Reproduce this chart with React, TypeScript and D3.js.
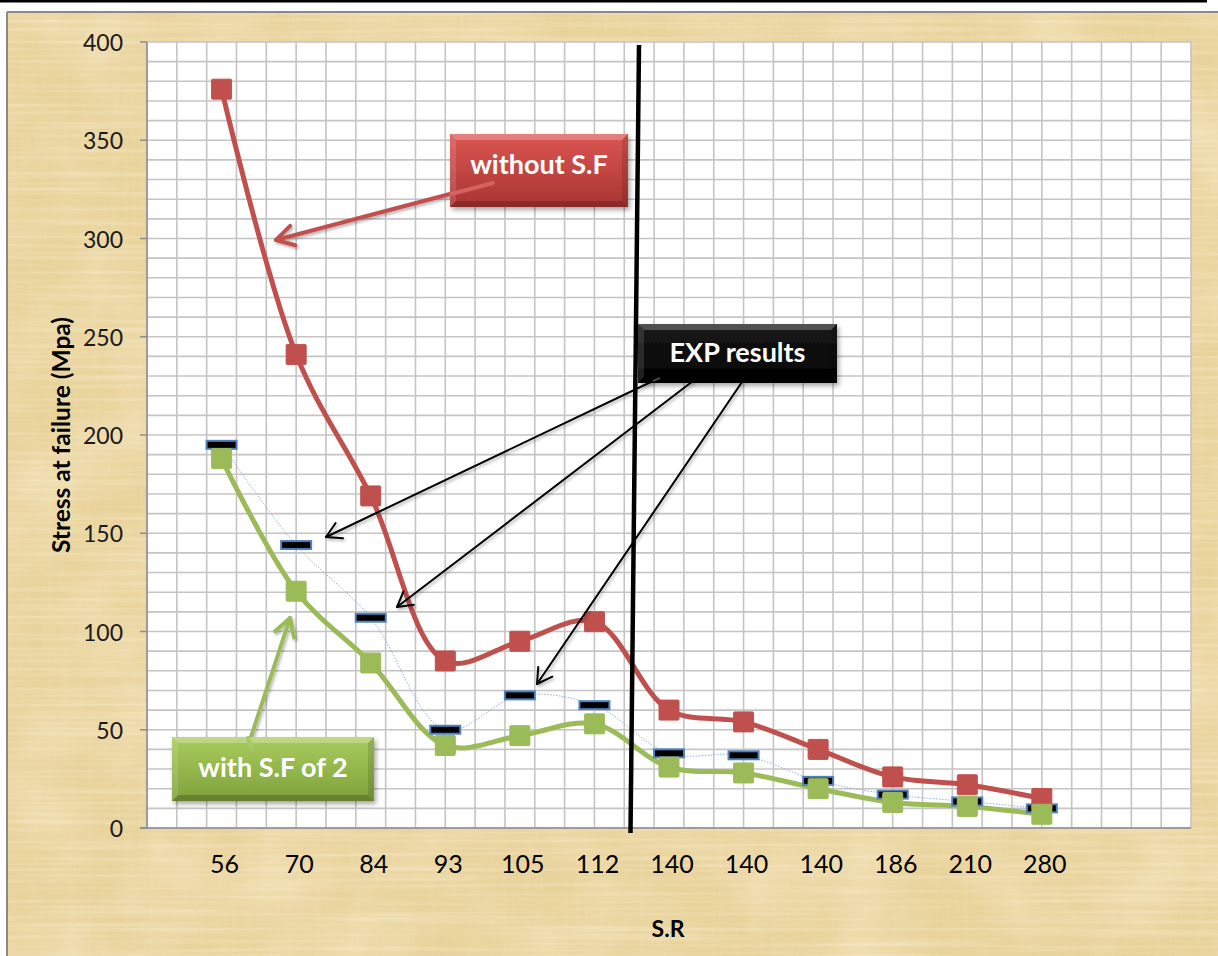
import React from "react";
import * as d3 from "d3";

const categories = ["56", "70", "84", "93", "105", "112", "140", "140", "140", "186", "210", "280"];
const withoutSF = [376, 241, 169, 85, 95, 105, 60, 54, 40, 26, 22, 15];
const withSF2 = [188, 120.5, 84, 42, 47, 53, 31, 28, 20, 13, 11, 7];
const expResults = [195, 144, 107, 50, 67.5, 62.5, 38, 37, 24, 17, 13.5, 10];
const yTicks = [0, 50, 100, 150, 200, 250, 300, 350, 400];

const W = 1218;
const H = 956;
const FONT = "Lato, 'Open Sans', sans-serif";

const x = d3.scaleLinear().domain([0, 14]).range([147, 1191]);
const y = d3.scaleLinear().domain([0, 400]).range([828, 42]);

const RED = "#C0504D";
const GREEN = "#9BBB59";
const BLUE = "#4F81BD";

function Arrow({ x1, y1, x2, y2, color, width, head }: any) {
  const a = Math.atan2(y2 - y1, x2 - x1);
  const sp = Math.PI / 6;
  const hx1 = x2 - head * Math.cos(a - sp);
  const hy1 = y2 - head * Math.sin(a - sp);
  const hx2 = x2 - head * Math.cos(a + sp);
  const hy2 = y2 - head * Math.sin(a + sp);
  return (
    <g stroke={color} strokeWidth={width} fill="none" strokeLinecap="round" strokeLinejoin="round">
      <line x1={x1} y1={y1} x2={x2} y2={y2} />
      <polyline points={`${hx1},${hy1} ${x2},${y2} ${hx2},${hy2}`} />
    </g>
  );
}

function Callout({ x0, y0, w, h, top, bottom, label, fs, dy, children }: any) {
  const id = "g" + label.replace(/[^a-z]/gi, "");
  return (
    <g>
      <defs>
        <linearGradient id={id} x1="0" y1="0" x2="0" y2="1">
          <stop offset="0" stopColor={top} />
          <stop offset="1" stopColor={bottom} />
        </linearGradient>
      </defs>
      <rect x={x0} y={y0} width={w} height={h} fill={`url(#${id})`} filter="url(#shadow)" />
      <polygon points={`${x0},${y0} ${x0 + w},${y0} ${x0 + w - 6},${y0 + 6} ${x0 + 6},${y0 + 6}`} fill="#fff" opacity={0.25} />
      <polygon points={`${x0},${y0} ${x0 + 6},${y0 + 6} ${x0 + 6},${y0 + h - 6} ${x0},${y0 + h}`} fill="#fff" opacity={0.12} />
      <polygon points={`${x0},${y0 + h} ${x0 + 6},${y0 + h - 6} ${x0 + w - 6},${y0 + h - 6} ${x0 + w},${y0 + h}`} fill="#000" opacity={0.2} />
      <polygon points={`${x0 + w},${y0} ${x0 + w},${y0 + h} ${x0 + w - 6},${y0 + h - 6} ${x0 + w - 6},${y0 + 6}`} fill="#000" opacity={0.12} />
      {children}
      <text x={x0 + w / 2} y={y0 + h / 2 + dy} textAnchor="middle" dominantBaseline="central" fill="#fff" fontFamily={FONT} fontWeight={700} fontSize={fs}>
        {label}
      </text>
    </g>
  );
}

export default function App() {
  const xs = categories.map((_, i) => x(i + 1));
  const curve = d3.curveCatmullRom.alpha(0.5);
  const lineGen = d3
    .line<number>()
    .x((_, i) => xs[i])
    .y((d) => y(d))
    .curve(curve);

  const vGrid = d3.range(0, 35 + 1).map((k) => x((k * 14) / 35));
  const hGrid = d3.range(0, 41).map((k) => y(k * 10));

  return (
    <svg width={W} height={H} style={{ position: "absolute", left: 0, top: 0 }} xmlns="http://www.w3.org/2000/svg">
      <defs>
        <filter id="fibH" x="0" y="0" width="100%" height="100%">
          <feTurbulence type="fractalNoise" baseFrequency="0.004 0.25" numOctaves="2" seed="5" result="n" />
          <feColorMatrix in="n" type="matrix" values="0 0 0 0 1  0 0 0 0 0.95  0 0 0 0 0.82  0 0 0 2.2 -1.0" result="c" />
          <feComposite in="c" in2="SourceGraphic" operator="in" />
        </filter>
        <filter id="fibV" x="0" y="0" width="100%" height="100%">
          <feTurbulence type="fractalNoise" baseFrequency="0.25 0.004" numOctaves="2" seed="9" result="n" />
          <feColorMatrix in="n" type="matrix" values="0 0 0 0 0.88  0 0 0 0 0.76  0 0 0 0 0.48  0 0 0 2.0 -1.0" result="c" />
          <feComposite in="c" in2="SourceGraphic" operator="in" />
        </filter>
        <filter id="blot" x="0" y="0" width="100%" height="100%">
          <feTurbulence type="fractalNoise" baseFrequency="0.012" numOctaves="3" seed="2" result="n" />
          <feColorMatrix in="n" type="matrix" values="0 0 0 0 0.96  0 0 0 0 0.89  0 0 0 0 0.7  0 0 0 1.2 -0.45" result="c" />
          <feComposite in="c" in2="SourceGraphic" operator="in" />
        </filter>
        <filter id="shadow" x="-10%" y="-10%" width="130%" height="140%">
          <feDropShadow dx="2" dy="3" stdDeviation="2.5" floodColor="#000" floodOpacity="0.35" />
        </filter>
        <filter id="lshadow" x="-10%" y="-10%" width="130%" height="130%">
          <feDropShadow dx="1.5" dy="2" stdDeviation="1.5" floodColor="#000" floodOpacity="0.3" />
        </filter>
      </defs>

      <rect x={0} y={0} width={W} height={H} fill="#ffffff" />
      <line x1={0} y1={1} x2={1207} y2={1} stroke="#000" strokeWidth={3} />

      {/* parchment frame */}
      <rect x={7} y={12} width={W} height={H} fill="#E9D39C" />
      <rect x={7} y={12} width={W} height={H} fill="#fff" filter="url(#blot)" opacity={0.6} />
      <rect x={7} y={12} width={W} height={H} fill="#fff" filter="url(#fibH)" opacity={0.35} />
      <rect x={7} y={12} width={W} height={H} fill="#fff" filter="url(#fibV)" opacity={0.3} />
      <line x1={7} y1={12} x2={W} y2={12} stroke="#8a8a8a" strokeWidth={2} />
      <line x1={7} y1={12} x2={7} y2={H} stroke="#8a8a8a" strokeWidth={2} />

      {/* plot area */}
      <rect x={x(0)} y={y(400)} width={x(14) - x(0)} height={y(0) - y(400)} fill="#ffffff" />
      <g stroke="#C4C4C4" strokeWidth={1.6}>
        {vGrid.map((gx, i) => (
          <line key={"v" + i} x1={gx} y1={y(400)} x2={gx} y2={y(0)} />
        ))}
        {hGrid.map((gy, i) => (
          <line key={"h" + i} x1={x(0)} y1={gy} x2={x(14)} y2={gy} />
        ))}
      </g>
      <g stroke="#8c8c8c" strokeWidth={1.5}>
        <line x1={x(0)} y1={y(400)} x2={x(0)} y2={y(0)} />
        <line x1={x(0) - 7} y1={y(0)} x2={x(14)} y2={y(0)} />
        {yTicks.map((t) => (
          <line key={"t" + t} x1={x(0) - 7} y1={y(t)} x2={x(0)} y2={y(t)} />
        ))}
      </g>

      {/* y ticks */}
      {yTicks.map((t) => (
        <text key={"yl" + t} x={123} y={y(t)} textAnchor="end" dominantBaseline="central" fontFamily={FONT} fontSize={23} fill="#1a1a1a">
          {t}
        </text>
      ))}
      <text
        transform={`translate(60,435) rotate(-90)`}
        textAnchor="middle"
        dominantBaseline="central"
        fontFamily={FONT}
        fontWeight={700}
        fontSize={24.5}
        fill="#000"
      >
        Stress at failure (Mpa)
      </text>

      {/* x labels */}
      {categories.map((c, i) => (
        <text key={"xl" + i} x={xs[i] + 3} y={863} textAnchor="middle" dominantBaseline="central" fontFamily={FONT} fontSize={25} fill="#000">
          {c}
        </text>
      ))}
      <text x={668} y={928} textAnchor="middle" dominantBaseline="central" fontFamily={FONT} fontWeight={700} fontSize={23} fill="#000">
        S.R
      </text>

      {/* EXP thin dotted line */}
      <path d={lineGen(expResults) || ""} fill="none" stroke="#8EB4E3" strokeWidth={1} strokeDasharray="1.5 1.5" />

      {/* red line */}
      <path d={lineGen(withoutSF) || ""} fill="none" stroke={RED} strokeWidth={5} strokeLinejoin="round" />
      {/* green line */}
      <path d={lineGen(withSF2) || ""} fill="none" stroke={GREEN} strokeWidth={5} strokeLinejoin="round" />

      {/* EXP markers */}
      {expResults.map((v, i) => (
        <rect key={"e" + i} x={xs[i] - 15} y={y(v) - 4} width={30} height={8} fill="#000" stroke={BLUE} strokeWidth={2} />
      ))}

      {/* red markers */}
      {withoutSF.map((v, i) => (
        <rect key={"r" + i} x={xs[i] - 10} y={y(v) - 10} width={20} height={20} rx={1} fill={RED} stroke={RED} strokeWidth={1} />
      ))}
      {/* green markers */}
      {withSF2.map((v, i) => (
        <rect key={"g" + i} x={xs[i] - 10} y={y(v) - 10} width={20} height={20} rx={1} fill={GREEN} stroke={GREEN} strokeWidth={1} />
      ))}

      {/* vertical divider */}
      <line x1={639} y1={45} x2={630.5} y2={833} stroke="#000" strokeWidth={4.5} />

      {/* arrows */}
      <g filter="url(#lshadow)">
        <Arrow x1={450} y1={194} x2={276} y2={240} color={RED} width={4} head={20} />
        <Arrow x1={248} y1={746} x2={290} y2={618} color={GREEN} width={4} head={20} />
      </g>
      <g filter="url(#lshadow)">
        <Arrow x1={653} y1={381} x2={326} y2={537} color="#000" width={2} head={17} />
        <Arrow x1={693} y1={381} x2={397} y2={607} color="#000" width={2} head={17} />
        <Arrow x1={742} y1={382} x2={537} y2={684} color="#000" width={2} head={17} />
      </g>

      {/* callouts */}
      <Callout x0={450} y0={134} w={178} h={73} top="#DB5652" bottom="#A93532" label="without S.F" fs={27} dy={-7}>
        <line x1={451} y1={194} x2={493} y2={183} stroke="#D4625E" strokeWidth={4} strokeLinecap="round" />
      </Callout>
      <Callout x0={638} y0={324} w={199} h={59} top="#1a1a1a" bottom="#000000" label="EXP results" fs={27} dy={-2}>
        <line x1={653} y1={381} x2={660} y2={378} stroke="#444" strokeWidth={2} />
      </Callout>
      <Callout x0={172} y0={737} w={202} h={64} top="#A9CC5E" bottom="#7FA13B" label="with S.F of 2" fs={27} dy={-3}>
        <line x1={248} y1={738} x2={252} y2={749} stroke="#A8C96A" strokeWidth={4} strokeLinecap="round" />
      </Callout>
    </svg>
  );
}
